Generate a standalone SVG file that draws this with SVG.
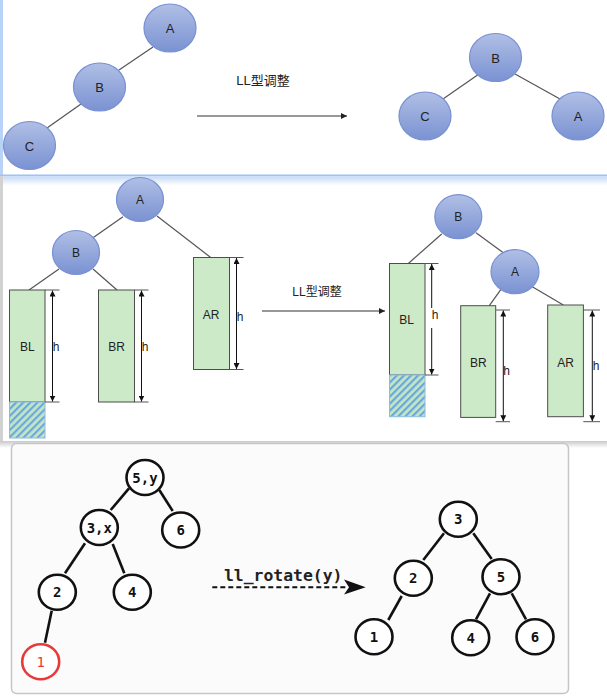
<svg xmlns="http://www.w3.org/2000/svg" width="607" height="696" viewBox="0 0 607 696">
<defs>
<linearGradient id="ball" x1="0" y1="0" x2="0" y2="1">
<stop offset="0" stop-color="#b0bfe5"/>
<stop offset="1" stop-color="#7a92d2"/>
</linearGradient>
<linearGradient id="blueFade" x1="0" y1="0" x2="0" y2="1">
<stop offset="0" stop-color="#c4d9f8"/>
<stop offset="1" stop-color="#ffffff"/>
</linearGradient>
<linearGradient id="grayFade" x1="0" y1="0" x2="0" y2="1">
<stop offset="0" stop-color="#c9c9c9"/>
<stop offset="1" stop-color="#ffffff"/>
</linearGradient>
<pattern id="hatch" patternUnits="userSpaceOnUse" width="5" height="5" patternTransform="rotate(45)">
<rect width="5" height="5" fill="#c4e6c6"/>
<rect width="2.2" height="5" fill="#6aa9dc"/>
</pattern>
<marker id="tip" viewBox="0 0 8 8" refX="8" refY="4" markerWidth="6" markerHeight="6" markerUnits="userSpaceOnUse" orient="auto">
<path d="M0,0 L8,4 L0,8 Z" fill="#222"/>
</marker>
<marker id="dim" viewBox="0 0 8 8" refX="8" refY="4" markerWidth="6" markerHeight="6" markerUnits="userSpaceOnUse" orient="auto-start-reverse">
<path d="M0,0 L8,4 L0,8 Z" fill="#111"/>
</marker>
</defs>
<style>
.ball{fill:url(#ball);stroke:#7890d4;stroke-width:1.2}
.edge{stroke:#555;stroke-width:1.2;fill:none}
.lbl{font-family:"Liberation Sans","Noto Sans CJK SC",sans-serif;font-size:12px;fill:#222;text-anchor:middle}
.big{font-size:13px}
.rect{fill:#cdeac8;stroke:#4d4d4d;stroke-width:1}
.hatch{fill:url(#hatch);stroke:#8cbbe2;stroke-width:1}
.dimline{stroke:#111;stroke-width:1;marker-start:url(#dim);marker-end:url(#dim)}
.tick{stroke:#555;stroke-width:1}
.arrow{stroke:#333;stroke-width:1.2;marker-end:url(#tip)}
.node{fill:#fff;stroke:#111;stroke-width:2.6}
.red{stroke:#e83a3a}
.bedge{stroke:#111;stroke-width:2.6}
.num{font-family:"DejaVu Sans Mono",monospace;font-size:14px;font-weight:bold;fill:#111;text-anchor:middle}
.rednum{fill:#e83a3a;font-weight:normal}
</style>

<!-- panel backgrounds -->
<g id="panels">
<rect x="0" y="0" width="607" height="176" fill="#fff"/>
<rect x="0" y="0" width="3" height="176" fill="#b9d2f7"/>
<rect x="0" y="176" width="607" height="266" fill="#fff"/>
<rect x="0" y="174.5" width="607" height="1.8" fill="#9ec2f4"/>
<rect x="3" y="176.3" width="604" height="9" fill="url(#blueFade)"/>
<rect x="0" y="176" width="3" height="266" fill="#d2d2d2"/>
<rect x="0" y="441" width="607" height="7" fill="url(#grayFade)"/>
<rect x="11.5" y="443.5" width="557" height="250" rx="5" fill="#fbfbfb" stroke="#c6c6c6" stroke-width="1.5"/>
</g>

<!-- connectors -->
<g id="connectors">
<line class="edge" x1="153" y1="47" x2="119" y2="70"/>
<line class="edge" x1="81" y1="104" x2="47" y2="128"/>
<line class="edge" x1="479" y1="74" x2="443" y2="99"/>
<line class="edge" x1="515" y1="74" x2="560" y2="99"/>
<line class="arrow" x1="197" y1="116" x2="347" y2="116"/>

<line class="edge" x1="123" y1="216.7" x2="93" y2="237.7"/>
<line class="edge" x1="157" y1="216" x2="211" y2="257.7"/>
<line class="edge" x1="59" y1="269" x2="29" y2="290"/>
<line class="edge" x1="93" y1="269" x2="117" y2="290"/>
<line class="arrow" x1="262" y1="311" x2="385" y2="311"/>
<line class="edge" x1="441.7" y1="234" x2="408.3" y2="263.5"/>
<line class="edge" x1="476" y1="232.7" x2="503.3" y2="252.7"/>
<line class="edge" x1="501.7" y1="288.3" x2="489.3" y2="305.7"/>
<line class="edge" x1="532.3" y1="286.7" x2="563.3" y2="305"/>

<line class="bedge" x1="129" y1="488.3" x2="110.7" y2="510"/>
<line class="bedge" x1="159.3" y1="490" x2="172.7" y2="511"/>
<line class="bedge" x1="85" y1="543.3" x2="65" y2="573.3"/>
<line class="bedge" x1="112.7" y1="544" x2="124.3" y2="573.3"/>
<line class="bedge" x1="51.7" y1="610.7" x2="45" y2="642.7"/>
<line class="bedge" x1="444" y1="533.3" x2="423.3" y2="560"/>
<line class="bedge" x1="473.3" y1="533.3" x2="491.7" y2="559"/>
<line class="bedge" x1="401.7" y1="596" x2="388.3" y2="620"/>
<line class="bedge" x1="490" y1="593.3" x2="476" y2="619.3"/>
<line class="bedge" x1="511.7" y1="593.3" x2="526" y2="619.3"/>
<line x1="212.3" y1="587.3" x2="346" y2="587.3" stroke="#111" stroke-width="2" stroke-dasharray="5 3"/>
<path d="M344,579.5 L365.7,587.3 L344,594.5 L349,587.3 Z" fill="#111"/>
</g>

<!-- top panel -->
<text class="lbl big" x="263" y="85">LL型调整</text>
<g id="t-A"><ellipse class="ball" cx="170" cy="28" rx="26" ry="24"/><text class="lbl big" x="170" y="33">A</text></g>
<g id="t-B"><ellipse class="ball" cx="99.5" cy="87" rx="26" ry="24"/><text class="lbl big" x="99.5" y="92">B</text></g>
<g id="t-C"><ellipse class="ball" cx="29.5" cy="145.5" rx="26" ry="24"/><text class="lbl big" x="29.5" y="150.5">C</text></g>
<g id="t-B2"><ellipse class="ball" cx="495.5" cy="57.5" rx="26" ry="24"/><text class="lbl big" x="495.5" y="62.5">B</text></g>
<g id="t-C2"><ellipse class="ball" cx="425" cy="116" rx="26" ry="24"/><text class="lbl big" x="425" y="121">C</text></g>
<g id="t-A2"><ellipse class="ball" cx="578" cy="116" rx="26" ry="24"/><text class="lbl big" x="578" y="121">A</text></g>

<!-- middle panel left -->
<text class="lbl" x="317" y="296">LL型调整</text>
<g id="m-A"><ellipse class="ball" cx="140" cy="199.5" rx="23.5" ry="22"/><text class="lbl" x="140" y="204">A</text></g>
<g id="m-B"><ellipse class="ball" cx="76" cy="252.5" rx="23.5" ry="22"/><text class="lbl" x="76" y="257">B</text></g>
<g id="m-BL">
<rect class="rect" x="9.5" y="290" width="35.5" height="112"/>
<rect class="hatch" x="9.5" y="402" width="35.5" height="36"/>
<text class="lbl" x="27.3" y="351">BL</text>
<line class="tick" x1="45" y1="290" x2="59.5" y2="290"/><line class="tick" x1="45" y1="402" x2="59.5" y2="402"/>
<line class="dimline" x1="52.5" y1="290.5" x2="52.5" y2="401.5"/>
<text class="lbl" x="56" y="351">h</text>
</g>
<g id="m-BR">
<rect class="rect" x="98.5" y="290" width="36" height="112"/>
<text class="lbl" x="116.7" y="351">BR</text>
<line class="tick" x1="134.5" y1="290" x2="148.5" y2="290"/><line class="tick" x1="134.5" y1="402" x2="148.5" y2="402"/>
<line class="dimline" x1="141.5" y1="290.5" x2="141.5" y2="401.5"/>
<text class="lbl" x="145" y="351">h</text>
</g>
<g id="m-AR">
<rect class="rect" x="193.5" y="257.5" width="36" height="112"/>
<text class="lbl" x="211" y="318.5">AR</text>
<line class="tick" x1="229.5" y1="257.5" x2="243.5" y2="257.5"/><line class="tick" x1="229.5" y1="369.5" x2="243.5" y2="369.5"/>
<line class="dimline" x1="236.5" y1="258" x2="236.5" y2="369"/>
<text class="lbl" x="240" y="321">h</text>
</g>

<!-- middle panel right -->
<g id="m-B2"><ellipse class="ball" cx="458.3" cy="216.7" rx="23.5" ry="22"/><text class="lbl" x="458.3" y="221.2">B</text></g>
<g id="m-A2"><ellipse class="ball" cx="515" cy="271.7" rx="24" ry="22"/><text class="lbl" x="515" y="276.2">A</text></g>
<g id="m-BL2">
<rect class="rect" x="389.5" y="263.5" width="35.5" height="111.5"/>
<rect class="hatch" x="389.5" y="375" width="35.5" height="41.7"/>
<text class="lbl" x="406.7" y="323.5">BL</text>
<line class="tick" x1="425" y1="263.5" x2="438.5" y2="263.5"/><line class="tick" x1="425" y1="375" x2="438.5" y2="375"/>
<line class="dimline" x1="431.7" y1="264" x2="431.7" y2="374.5"/>
<rect x="429" y="308" width="8" height="20" fill="#fff"/>
<text class="lbl" x="435" y="318.5">h</text>
</g>
<g id="m-BR2">
<rect class="rect" x="460.7" y="305.7" width="35" height="111.7"/>
<text class="lbl" x="478.3" y="366.5">BR</text>
<line class="tick" x1="495.7" y1="310" x2="510" y2="310"/><line class="tick" x1="495.7" y1="421.7" x2="510" y2="421.7"/>
<line class="dimline" x1="503.3" y1="310.5" x2="503.3" y2="421.2"/>
<text class="lbl" x="506.5" y="374.5">h</text>
</g>
<g id="m-AR2">
<rect class="rect" x="547.7" y="305" width="35.7" height="111.7"/>
<text class="lbl" x="565.7" y="366.5">AR</text>
<line class="tick" x1="583.3" y1="310" x2="600" y2="310"/><line class="tick" x1="583.3" y1="421.7" x2="600" y2="421.7"/>
<line class="dimline" x1="592.3" y1="310.5" x2="592.3" y2="421.2"/>
<text class="lbl" x="596" y="369.5">h</text>
</g>

<!-- bottom panel -->
<text x="224" y="580.5" font-family="DejaVu Sans Mono, monospace" font-size="16.4" font-weight="bold" fill="#222">ll_rotate(y)</text>
<g id="b-5y"><ellipse class="node" cx="145" cy="477.5" rx="18.5" ry="17.5"/><text class="num" x="145" y="482.5">5,y</text></g>
<g id="b-3x"><ellipse class="node" cx="99.3" cy="527.5" rx="18.5" ry="17.5"/><text class="num" x="99.3" y="532.5">3,x</text></g>
<g id="b-6"><ellipse class="node" cx="180.7" cy="530" rx="18.5" ry="17.5"/><text class="num" x="180.7" y="535">6</text></g>
<g id="b-2"><ellipse class="node" cx="57.3" cy="592.3" rx="18.5" ry="17.5"/><text class="num" x="57.3" y="597.3">2</text></g>
<g id="b-4"><ellipse class="node" cx="132.3" cy="592.3" rx="18.5" ry="17.5"/><text class="num" x="132.3" y="597.3">4</text></g>
<g id="b-1"><ellipse class="node red" cx="40.7" cy="661.7" rx="18.5" ry="17.5"/><text class="num rednum" x="40.7" y="666.7">1</text></g>
<g id="r-3"><ellipse class="node" cx="458.3" cy="519.3" rx="18.5" ry="17.5"/><text class="num" x="458.3" y="524.3">3</text></g>
<g id="r-2"><ellipse class="node" cx="413.3" cy="578.3" rx="18.5" ry="17.5"/><text class="num" x="413.3" y="583.3">2</text></g>
<g id="r-5"><ellipse class="node" cx="501" cy="576.7" rx="18.5" ry="17.5"/><text class="num" x="501" y="581.7">5</text></g>
<g id="r-1"><ellipse class="node" cx="374" cy="636.7" rx="18.5" ry="17.5"/><text class="num" x="374" y="641.7">1</text></g>
<g id="r-4"><ellipse class="node" cx="470.7" cy="637.7" rx="18.5" ry="17.5"/><text class="num" x="470.7" y="642.7">4</text></g>
<g id="r-6"><ellipse class="node" cx="535" cy="636.7" rx="18.5" ry="17.5"/><text class="num" x="535" y="641.7">6</text></g>
</svg>
